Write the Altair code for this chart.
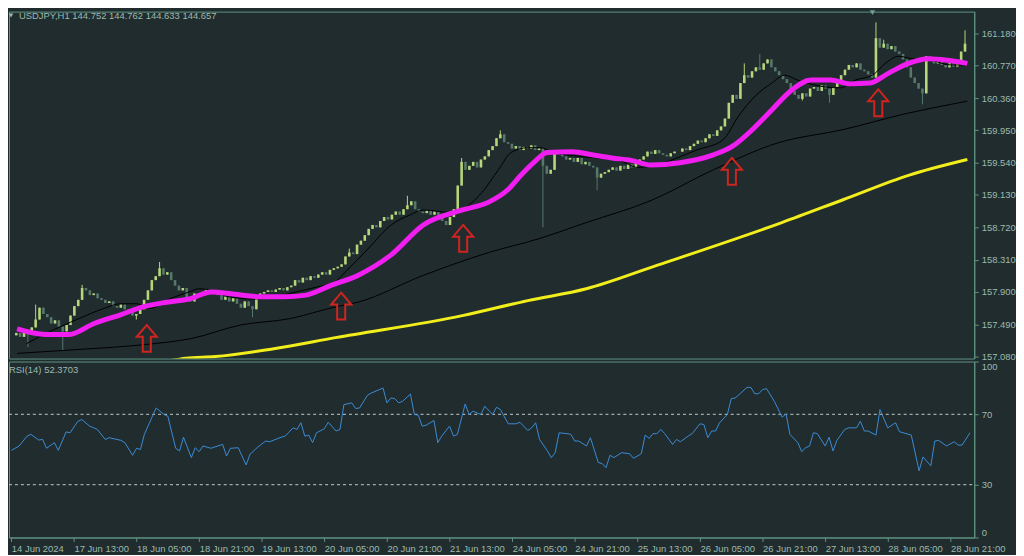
import altair as alt
import pandas as pd

# ---------------- data ----------------
closes = [
    157.38, 157.33, 157.42, 157.36, 157.45,
    157.55, 157.70, 157.62,
    157.58, 157.50, 157.54, 157.46,
    157.40, 157.48, 157.60,
    157.72, 157.80, 157.95, 157.92,
    157.86, 157.88, 157.82, 157.80, 157.76, 157.78,
    157.72, 157.70, 157.74, 157.68, 157.65, 157.60, 157.62, 157.68,
    157.80, 157.92, 158.05, 158.10, 158.20,
    158.12, 158.15, 158.05, 157.98, 157.92, 157.95,
    157.82, 157.78, 157.88, 157.85,
    157.90, 157.93, 157.88, 157.91, 157.86,
    157.80, 157.84, 157.78, 157.82, 157.75, 157.70, 157.78, 157.72, 157.68,
    157.85, 157.88, 157.90, 157.92, 157.90, 157.93, 157.95, 157.92, 157.96, 157.98,
    158.05, 158.02, 158.08, 158.05, 158.10, 158.08, 158.12, 158.15, 158.12, 158.18, 158.20,
    158.22, 158.25, 158.35, 158.40, 158.38,
    158.50, 158.55, 158.62, 158.70,
    158.75, 158.72, 158.80, 158.85, 158.82, 158.88,
    158.92, 158.88, 158.95, 159.00, 159.05,
    158.95, 158.92, 158.90, 158.93, 158.88, 158.92,
    158.85, 158.80, 158.75, 158.85, 158.95,
    159.25, 159.55,
    159.45, 159.50, 159.55, 159.48, 159.58, 159.62,
    159.70, 159.75, 159.85, 159.90, 159.80,
    159.78, 159.72, 159.75, 159.70, 159.74, 159.72, 159.76, 159.70, 159.72,
    159.50, 159.40, 159.45, 159.68,
    159.65, 159.62, 159.58, 159.60, 159.55, 159.60, 159.52, 159.55, 159.50, 159.48,
    159.35, 159.40,
    159.42, 159.45, 159.48, 159.44, 159.50, 159.46, 159.52, 159.48, 159.55, 159.58,
    159.62, 159.68, 159.65, 159.70, 159.66,
    159.64, 159.62, 159.66, 159.68,
    159.68, 159.72, 159.70, 159.75, 159.78, 159.82, 159.80, 159.85, 159.90, 159.88, 159.95, 160.00,
    160.10, 160.30, 160.40, 160.35, 160.55, 160.65,
    160.62, 160.70, 160.75, 160.72, 160.80, 160.85,
    160.75, 160.70, 160.65, 160.60, 160.55,
    160.45, 160.40, 160.35, 160.42, 160.38, 160.48,
    160.50, 160.45, 160.52, 160.48, 160.40, 160.50, 160.55,
    160.65, 160.72, 160.78, 160.75, 160.80, 160.72,
    160.70, 160.66, 160.62, 161.12,
    161.00, 161.05, 160.98, 161.02, 160.95, 160.92,
    160.85, 160.75, 160.62, 160.55, 160.48,
    160.42,
    160.89,
    160.85, 160.80, 160.82, 160.78, 160.75, 160.80, 160.76,
    160.82, 160.95, 161.05,
]
first_open = 157.35
wick_high = {5: 157.74, 17: 157.99, 37: 158.28, 86: 158.45, 101: 159.12, 115: 159.60,
             125: 159.95, 188: 160.80, 192: 160.92, 222: 161.32, 224: 161.10, 245: 161.22}
wick_low = {3: 157.20, 12: 157.15, 31: 157.55, 61: 157.58, 136: 158.72, 150: 159.19,
            203: 160.33, 210: 160.30, 234: 160.28}

mag_idx = [0.2, 7.5, 13.5, 20.1, 26.9, 32.7, 38.8, 44.6, 50.4, 56.4, 63.0, 69.0, 74.8, 81.1, 88.2,
           96.8, 105.1, 115.2, 122.0, 127.0, 130.3, 133.6, 137.1, 143.7, 148.7, 153.8, 158.8, 163.9,
           171.4, 180.0, 185.0, 190.1, 195.1, 200.2, 205.2, 210.3, 215.3, 220.4, 225.4, 230.4, 235.5,
           240.5, 245.6]
mag_val = [157.43, 157.36, 157.36, 157.50, 157.61, 157.71, 157.77, 157.81, 157.90, 157.87, 157.84,
           157.84, 157.86, 157.98, 158.11, 158.37, 158.75, 158.94, 159.04, 159.20, 159.38, 159.54,
           159.67, 159.68, 159.64, 159.60, 159.57, 159.51, 159.54, 159.64, 159.75, 159.96, 160.21,
           160.46, 160.59, 160.59, 160.54, 160.55, 160.68, 160.80, 160.86, 160.84, 160.80]

short_idx = [2.5, 7.5, 16.1, 22.6, 26.9, 31.2, 34.5, 39.5, 44.6, 47.1, 49.6, 54.7, 61.5, 66.5, 72.3,
             77.4, 82.4, 84.9, 90.7, 96.8, 101.8, 105.1, 111.9, 115.2, 120.2, 124.5, 127.8, 132.1,
             135.4, 138.6, 143.7, 149.7, 155.5, 160.6, 164.9, 175.7, 182.5, 186.5, 190.9, 195.1,
             198.4, 201.7, 207.7, 212.8, 216.8, 221.1, 224.4, 227.9, 231.2, 236.2, 241.3, 245.6]
short_val = [157.24, 157.37, 157.56, 157.69, 157.75, 157.75, 157.69, 157.81, 157.90, 157.94, 157.93,
             157.84, 157.81, 157.84, 157.90, 157.96, 158.03, 158.15, 158.44, 158.75, 158.88, 158.94,
             158.91, 158.95, 159.16, 159.45, 159.67, 159.73, 159.73, 159.67, 159.63, 159.60, 159.57,
             159.48, 159.51, 159.70, 159.83, 160.13, 160.39, 160.55, 160.65, 160.59, 160.51, 160.49,
             160.59, 160.65, 160.80, 160.89, 160.86, 160.84, 160.78, 160.78]

long_idx = [0.2, 16.1, 32.7, 45.3, 57.9, 70.5, 82.4, 88.2, 105.1, 122.0, 134.6, 147.2, 163.9, 180.0,
            196.6, 213.5, 230.4, 245.6]
long_val = [157.12, 157.17, 157.23, 157.31, 157.48, 157.56, 157.71, 157.77, 158.11, 158.40, 158.57,
            158.78, 159.06, 159.45, 159.79, 159.96, 160.17, 160.32]

yel_idx = [37.0, 43.8, 51.4, 66.5, 82.4, 115.2, 132.1, 147.2, 165.6, 197.7, 213.5, 230.4, 245.6]
yel_val = [157.00, 157.06, 157.08, 157.18, 157.32, 157.60, 157.79, 157.94, 158.24, 158.78, 159.07,
           159.38, 159.58]

arrow_idx = [33.7, 83.9, 115.4, 184.8, 222.6]
arrow_val = [157.31, 157.72, 158.58, 159.43, 160.30]

rsi_idx = [0, 2, 4, 5, 7, 8, 9, 11, 12, 14, 15, 17, 18, 20, 22, 24, 25, 28, 29, 31,
           32, 33, 34, 37, 39, 40, 42, 43, 44, 46, 47, 48, 49, 51, 54, 55, 56, 58, 60, 61,
           63, 65, 66, 69, 70, 72, 73, 74, 75, 76, 77, 78, 80, 81, 83, 84, 85, 87, 88, 89,
           91, 92, 95, 96, 97, 98, 99, 100, 102, 103, 104, 105, 106, 108, 109, 110, 112, 113, 114, 116,
           117, 118, 120, 121, 123, 124, 125, 127, 129, 130, 132, 133, 134, 135, 137, 138, 139, 140, 142, 143,
           144, 145, 147, 148, 150, 151, 152, 153, 154, 156, 158, 159, 161, 162, 163, 164, 165, 166, 167, 169,
           170, 171, 173, 174, 176, 177, 178, 179, 180, 181, 183, 184, 185, 186, 188, 189, 190, 191, 192, 193,
           195, 197, 198, 199, 201, 202, 203, 204, 205, 206, 208, 209, 210, 211, 213, 214, 216, 217, 218, 219,
           221, 222, 224, 226, 227, 230, 232, 233, 235, 236, 237, 239, 241, 242, 243, 245]
rsi_val = [49.5, 52.0, 57.6, 58.6, 55.4, 55.7, 50.7, 53.9, 49.5, 60.0, 59.5, 66.0, 67.0, 63.3, 61.4, 55.7, 56.7, 55.2, 53.9, 46.7,
           50.7, 50.0, 58.6, 73.6, 69.9, 68.9, 50.7, 49.2, 57.0, 45.4, 51.0, 48.8, 52.0, 50.7, 52.9, 46.3, 50.7, 51.0, 41.2, 47.3,
           51.4, 54.8, 54.4, 57.0, 57.6, 62.3, 61.4, 65.2, 57.6, 58.2, 53.9, 59.5, 61.8, 65.5, 60.5, 61.4, 75.5, 76.5, 73.3, 73.6,
           80.8, 82.1, 84.9, 76.5, 79.3, 78.9, 76.5, 77.4, 81.5, 69.9, 69.5, 63.3, 63.8, 66.5, 53.9, 57.6, 63.3, 57.6, 58.6, 75.9,
           69.9, 71.8, 69.9, 74.6, 69.9, 74.0, 72.7, 64.6, 64.6, 65.5, 60.8, 62.3, 65.2, 55.7, 49.2, 45.4, 48.2, 59.5, 59.0, 58.6,
           54.8, 54.8, 52.0, 56.7, 42.6, 42.0, 39.7, 46.7, 45.4, 48.2, 47.6, 45.0, 47.6, 58.2, 56.3, 59.0, 59.0, 61.4, 59.0, 52.9,
           55.7, 54.4, 57.6, 59.0, 64.6, 64.2, 56.7, 60.5, 60.5, 65.2, 69.9, 78.9, 79.3, 81.2, 85.3, 85.3, 81.7, 81.7, 84.0, 84.6,
           77.4, 68.4, 70.2, 58.6, 53.9, 48.8, 51.0, 52.0, 59.5, 59.0, 52.0, 57.0, 49.2, 55.2, 61.4, 62.3, 62.3, 66.1, 60.5, 60.5,
           58.2, 72.7, 62.3, 65.2, 60.1, 58.2, 37.9, 45.8, 40.7, 54.8, 55.2, 52.0, 54.4, 52.5, 52.5, 59.5]
rsi_levels = [30, 70]

price_ticks = [157.080, 157.490, 157.900, 158.310, 158.720, 159.130, 159.540, 159.950, 160.360, 160.770, 161.180]
rsi_ticks = [0, 30, 70, 100]
x_tick_idx = [0, 16, 32, 48, 64, 80, 96, 112, 128, 144, 160, 176, 192, 208, 224, 240]
x_labels = ["14 Jun 2024", "17 Jun 13:00", "18 Jun 05:00", "18 Jun 21:00", "19 Jun 13:00",
            "20 Jun 05:00", "20 Jun 21:00", "21 Jun 13:00", "24 Jun 05:00", "24 Jun 21:00",
            "25 Jun 13:00", "26 Jun 05:00", "26 Jun 21:00", "27 Jun 13:00", "28 Jun 05:00",
            "28 Jun 21:00"]
header_text = ["USDJPY,H1  144.752 144.762 144.633 144.657"]
rsi_text = ["RSI(14) 52.3703"]

# ---------------- styling ----------------
BG = "#212c2f"
BORDER = "#5f9482"
TXT = "#9dbaac"
FONT = "Liberation Sans"
BULL = "#b7d67a"
BEAR = "#56786a"

# ---------------- tables ----------------
opens = [first_open] + closes[:-1]
rows = []
for i, (o, c) in enumerate(zip(opens, closes)):
    hi = wick_high.get(i, max(o, c))
    lo = wick_low.get(i, min(o, c))
    rows.append({"idx": i, "open": o, "close": c, "high": max(hi, o, c), "low": min(lo, o, c),
                 "dir": "up" if c >= o else "down"})
candles = pd.DataFrame(rows)

mag_df = pd.DataFrame({"idx": mag_idx, "v": mag_val})
short_df = pd.DataFrame({"idx": short_idx, "v": short_val})
long_df = pd.DataFrame({"idx": long_idx, "v": long_val})
yel_df = pd.DataFrame({"idx": yel_idx, "v": yel_val})
arrow_df = pd.DataFrame({"idx": arrow_idx, "v": arrow_val})
rsi_df = pd.DataFrame({"idx": rsi_idx, "v": rsi_val})
lvl_df = pd.DataFrame({"lvl": rsi_levels})

xs = alt.Scale(domain=[-0.6, 246.1], nice=False, zero=False)
ps = alt.Scale(domain=[157.055, 161.457], nice=False, zero=False)
rs = alt.Scale(domain=[0, 100], nice=False, zero=False)

price_axis = alt.Axis(orient="right", values=price_ticks, format=".3f", title=None, grid=False,
                      tickSize=4, labelPadding=3)
rsi_axis = alt.Axis(orient="right", values=rsi_ticks, format="d", title=None, grid=False,
                    tickSize=4, labelPadding=3, labelFlush=True)
label_expr = "[" + ",".join("'" + s + "'" for s in x_labels) + "][round(datum.value/16)]"
time_axis = alt.Axis(values=x_tick_idx, labelExpr=label_expr, labelAlign="left", labelPadding=2,
                     tickSize=4, title=None, grid=False, labelOverlap=False, labelFlush=False)

X = alt.X("idx:Q", scale=xs, axis=None)
color_enc = alt.Color("dir:N", scale=alt.Scale(domain=["up", "down"], range=[BULL, BEAR]), legend=None)

wicks = alt.Chart(candles).mark_rule(strokeWidth=1).encode(
    x=X, y=alt.Y("low:Q", scale=ps, axis=price_axis), y2="high:Q", color=color_enc)
bodies = alt.Chart(candles).mark_bar(size=2.6).encode(
    x=X, y=alt.Y("open:Q", scale=ps, axis=price_axis), y2="close:Q", color=color_enc)


def ma_line(df, color, width):
    return alt.Chart(df).mark_line(color=color, strokeWidth=width, interpolate="monotone", clip=True).encode(
        x=X, y=alt.Y("v:Q", scale=ps, axis=price_axis))


long_line = ma_line(long_df, "#000000", 1)
yel_line = ma_line(yel_df, "#f2ee1c", 3)
short_line = ma_line(short_df, "#000000", 1)
mag_line = ma_line(mag_df, "#f01ef0", 5)

arrow_path = "M0,-1L0.75,-0.12L0.3,-0.12L0.3,1L-0.3,1L-0.3,-0.12L-0.75,-0.12Z"
arrows = alt.Chart(arrow_df).mark_point(shape=arrow_path, size=729, filled=False, stroke="#cf2420",
                                        strokeWidth=2, opacity=1).encode(
    x=X, y=alt.Y("v:Q", scale=ps, axis=price_axis))

header = alt.Chart(pd.DataFrame({"t": header_text})).mark_text(
    align="left", baseline="middle", font=FONT, fontSize=9.5, color=TXT).encode(
    x=alt.value(10), y=alt.value(4), text="t:N")
header_tri = alt.Chart(pd.DataFrame({"t": header_text})).mark_point(
    shape="triangle-down", size=22, filled=True, color=TXT, opacity=1).encode(
    x=alt.value(2), y=alt.value(4))
top_marker = alt.Chart(pd.DataFrame({"idx": [221.1]})).mark_point(
    shape="triangle-down", size=30, filled=True, color="#6fa292", opacity=1).encode(
    x=X, y=alt.value(1))

main = alt.layer(wicks, bodies, long_line, yel_line, short_line, mag_line, arrows,
                 header, header_tri, top_marker).properties(width=971, height=349)

XR = alt.X("idx:Q", scale=xs, axis=time_axis)
levels = alt.Chart(lvl_df).mark_rule(color="#c3cccb", strokeWidth=1, strokeDash=[3, 3]).encode(
    x=alt.value(0), x2=alt.value(971), y=alt.Y("lvl:Q", scale=rs, axis=rsi_axis))
rsi_line = alt.Chart(rsi_df).mark_line(color="#3a8bd4", strokeWidth=1).encode(
    x=XR, y=alt.Y("v:Q", scale=rs, axis=rsi_axis))
rsi_lbl = alt.Chart(pd.DataFrame({"t": rsi_text})).mark_text(
    align="left", baseline="middle", font=FONT, fontSize=9.5, color=TXT).encode(
    x=alt.value(0), y=alt.value(9), text="t:N")

rsi = alt.layer(levels, rsi_line, rsi_lbl).properties(width=971, height=177)

chart = alt.vconcat(main, rsi, spacing=3, bounds="flush").properties(
    background=BG, padding=0
).configure_view(
    stroke=BORDER, strokeWidth=1, fill=BG
).configure_axis(
    labelFont=FONT, labelFontSize=9.5, labelColor=TXT, tickColor=BORDER, domainColor=BORDER
)

chart.save("out.html", embed_options={"renderer": "svg", "actions": False})
